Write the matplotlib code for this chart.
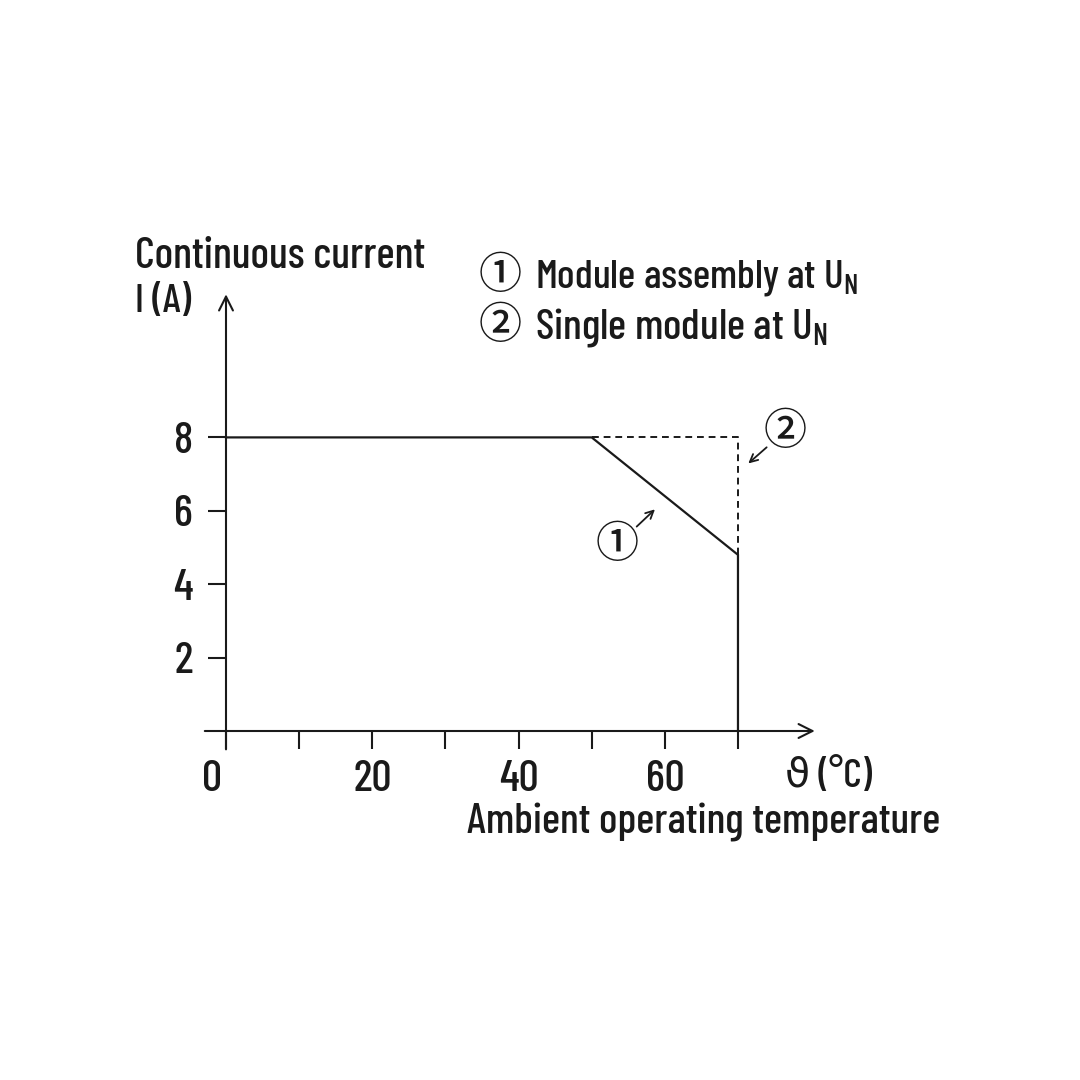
import matplotlib
matplotlib.use("Agg")
import matplotlib.pyplot as plt
from matplotlib import font_manager
from matplotlib.transforms import ScaledTranslation

names = {f.name for f in font_manager.fontManager.ttflist}
FONT = next(f for f in ['Barlow Condensed', 'Roboto Condensed', 'Fira Sans Condensed', 'Liberation Sans']
            if f in names)
plt.rcParams['font.family'] = [FONT, 'DejaVu Sans']
plt.rcParams['font.weight'] = 'medium'
plt.rcParams['mathtext.fontset'] = 'custom'
plt.rcParams['mathtext.rm'] = FONT + ':medium'
CIRC = ['Noto Sans CJK JP', 'DejaVu Sans']

# data
temp_assembly = [0, 50, 70, 70]
current_assembly = [8, 8, 4.8, 0]
temp_single = [50, 70, 70]
current_single = [8, 8, 4.8]
xticks = [0, 10, 20, 30, 40, 50, 60, 70]
xticklabels = ['0', '', '20', '', '40', '', '60', '']
yticks = [2, 4, 6, 8]
yticklabels = ['2', '4', '6', '8']

PXX = 7.314
PXY = 36.7
fig = plt.figure(figsize=(10.8, 10.8), dpi=100)
ax = fig.add_axes([0, 0, 1, 1])
ax.set_xlim(-226 / PXX, (1080 - 226) / PXX)
ax.set_ylim((731 - 1080) / PXY, 731 / PXY)
for s in ax.spines.values():
    s.set_visible(False)
ax.spines['left'].set_position(('data', 0))
ax.spines['bottom'].set_position(('data', 0))

col = '#1a1a1a'
ax.set_xticks(xticks)
ax.set_xticklabels(xticklabels)
ax.set_yticks(yticks)
ax.set_yticklabels(yticklabels)
ax.tick_params(axis='both', direction='out', length=13, width=1.5, color=col,
               labelsize=32, labelcolor=col)
ax.tick_params(axis='x', pad=8)
ax.tick_params(axis='y', pad=11)
lbl0 = ax.get_xticklabels()[0]
lbl0.set_transform(lbl0.get_transform() + ScaledTranslation(-14 / 100, 0, fig.dpi_scale_trans))

# axes arrows
ax.annotate('', xy=(80.5, 0), xytext=(-2.9, 0),
            arrowprops=dict(arrowstyle='->', lw=1.5, color=col, mutation_scale=25,
                            shrinkA=0, shrinkB=0))
ax.annotate('', xy=(0, 11.9), xytext=(0, -0.5),
            arrowprops=dict(arrowstyle='->', lw=1.5, color=col, mutation_scale=25,
                            shrinkA=0, shrinkB=0))

ax.plot(temp_assembly, current_assembly, color=col, lw=1.6, solid_joinstyle='miter')
ax.plot(temp_single, current_single, color=col, lw=1.4, linestyle=(0, (3.5, 2.5)))

# callouts
ax.text(53.5, 5.07, '\u2460', fontsize=31, ha='center', va='center', color=col, family=CIRC)
ax.annotate('', xy=(58.65, 6.04), xytext=(56.15, 5.57),
            arrowprops=dict(arrowstyle='->', lw=1.3, color=col, mutation_scale=14,
                            shrinkA=0, shrinkB=0))
ax.text(76.43, 8.16, '\u2461', fontsize=31, ha='center', va='center', color=col, family=CIRC)
ax.annotate('', xy=(71.41, 7.29), xytext=(73.92, 7.73),
            arrowprops=dict(arrowstyle='->', lw=1.3, color=col, mutation_scale=14,
                            shrinkA=0, shrinkB=0))

# texts (font size fitted to the reference text widths)
renderer = fig.canvas.get_renderer()


def fitted(x, y, s, width_px, size=32, **kw):
    t = ax.text(x, y, s, fontsize=size, ha='left', va='center', color=col, **kw)
    w = t.get_window_extent(renderer).width
    t.set_fontsize(size * width_px / w)
    return t


fitted(-12.44, 12.94, 'Continuous current', 290)
fitted(-12.44, 11.69, 'I (A)', 56)
fitted(76.4, -1.25, '\u03d1 (°C)', 87)
fitted(32.95, -2.48, 'Ambient operating temperature', 473)
ax.text(37.46, 12.42, '\u2460', fontsize=31, ha='center', va='center', color=col, family=CIRC)
fitted(42.25, 12.35, 'Module assembly at $\\mathregular{U_N}$', 323)
ax.text(37.46, 11.06, '\u2461', fontsize=31, ha='center', va='center', color=col, family=CIRC)
fitted(42.25, 10.99, 'Single module at $\\mathregular{U_N}$', 293)

fig.savefig('out.png', dpi=100, facecolor='white')
